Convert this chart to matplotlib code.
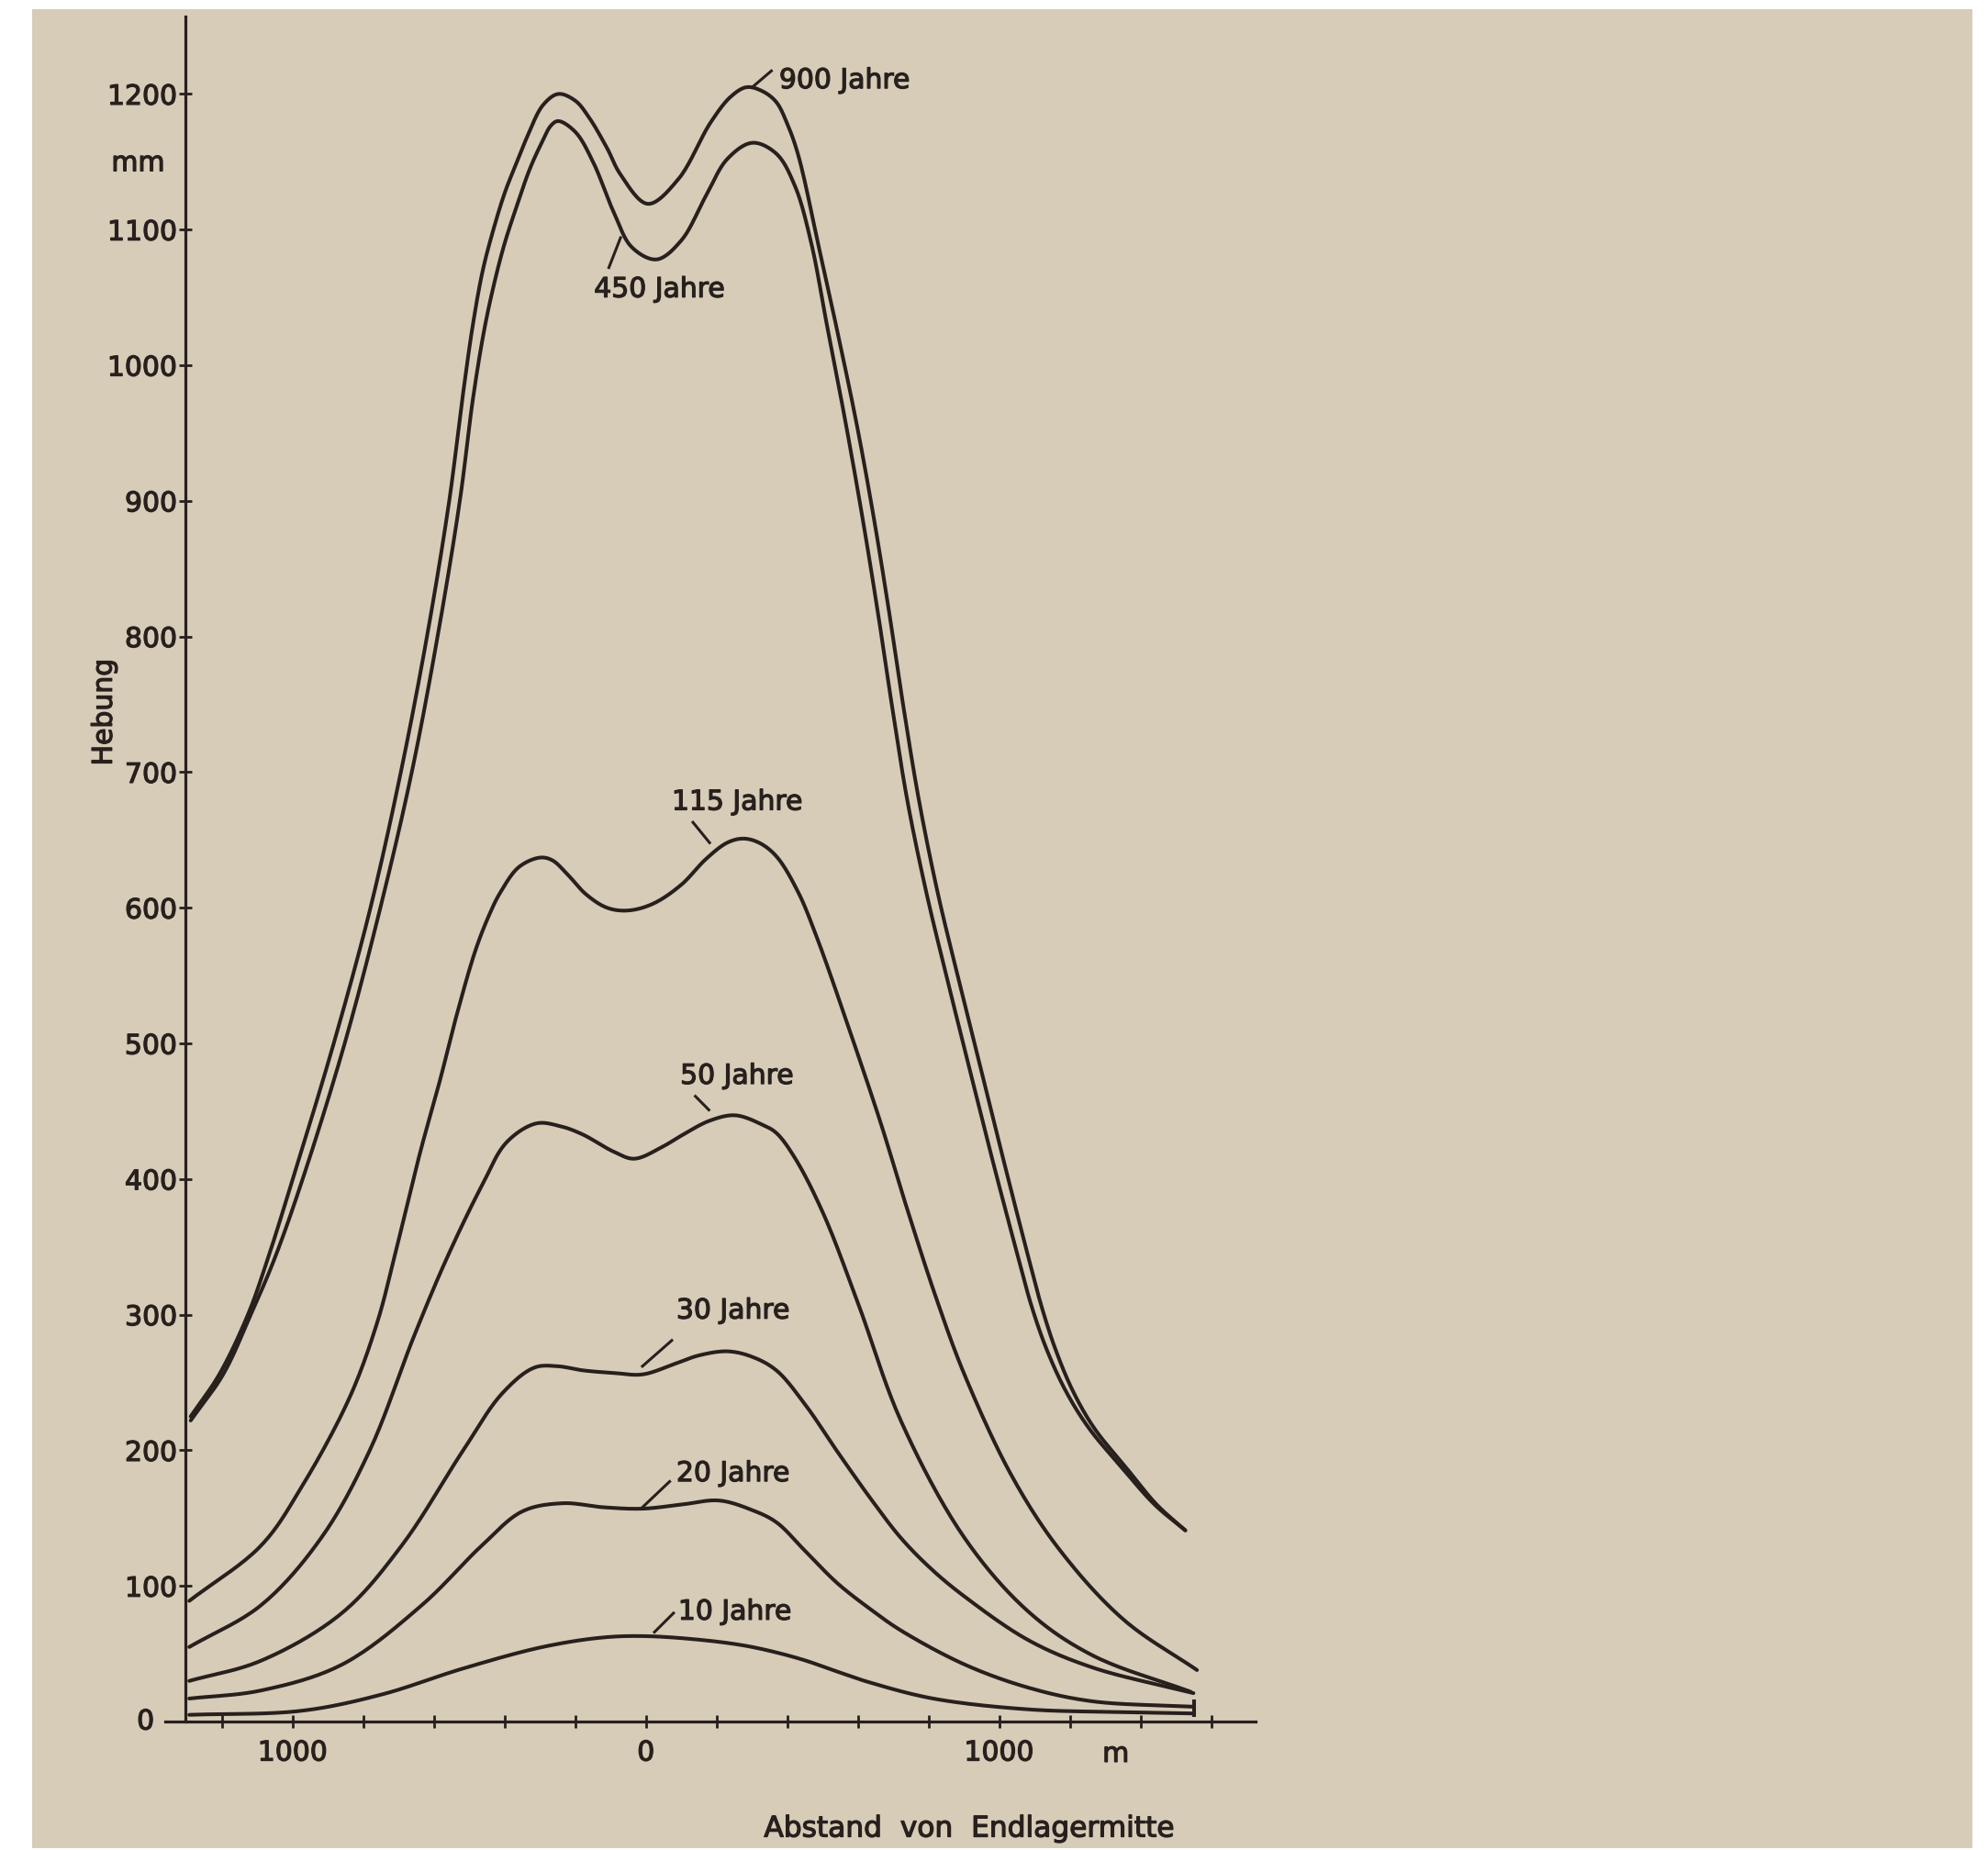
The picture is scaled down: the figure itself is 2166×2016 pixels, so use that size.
import numpy as np
import matplotlib
matplotlib.use("Agg")
import matplotlib.pyplot as plt
import matplotlib.patheffects as pe
from matplotlib.patches import Rectangle

# Hebung (mm) ueber Abstand von Endlagermitte (m)
x_900 = [-1289, -1208, -1127, -1071, -1000, -884, -780, -694, -620, -557, -520, -490, -462, -432,
         -400, -370, -337, -291, -248, -200, -162, -110, -73, 5, 91, 183, 240, 285, 330, 369, 400,
         431, 492, 541, 597, 646, 689, 729, 773, 826, 890, 955, 1019, 1084, 1120, 1160, 1210, 1270,
         1357, 1446, 1527]
y_900 = [225, 256, 300, 341, 400, 500, 600, 700, 800, 900, 975, 1030, 1070, 1100,
         1127, 1147, 1168, 1192, 1200, 1195, 1183, 1160, 1141, 1119, 1137, 1179, 1198, 1205, 1202, 1194, 1178,
         1155, 1084, 1026, 956, 886, 817, 748, 679, 611, 542, 474, 407, 341, 306, 274, 243, 216,
         188, 160, 141]

x_450 = [-1289, -1197, -1119, -1052, -972, -853, -752, -663, -590, -527, -490, -458, -430, -400,
         -365, -330, -299, -268, -248, -200, -150, -90, -40, 30, 100, 170, 230, 301, 369, 422, 468,
         512, 565, 614, 657, 697, 740, 794, 858, 923, 988, 1055, 1092, 1135, 1190, 1255, 1345, 1440, 1527]
y_450 = [222, 256, 300, 341, 400, 500, 600, 700, 800, 900, 975, 1026, 1060, 1090,
         1118, 1144, 1162, 1177, 1180, 1172, 1150, 1112, 1087, 1078, 1092, 1125, 1152, 1164, 1156, 1132, 1090,
         1030, 958, 886, 817, 748, 679, 611, 542, 474, 407, 341, 306, 274, 243, 216, 188, 160, 141]

x_115 = [-1293, -1089, -975, -839, -760, -709, -640, -582, -539, -481, -440, -413, -360, -300,
         -265, -220, -170, -110, -51, 20, 100, 170, 230, 275, 320, 369, 430, 484, 576, 665, 737,
         822, 903, 1038, 1173, 1353, 1560]
y_115 = [89, 130, 173, 239, 295, 346, 419, 474, 518, 570, 597, 611, 630, 637,
         635, 624, 610, 600, 598, 603, 617, 636, 648, 651, 648, 638, 612, 578, 510, 441, 380,
         312, 255, 180, 126, 75, 38]

x_50 = [-1293, -1089, -918, -782, -657, -565, -463, -395, -311, -243, -180, -90, -33, 48, 100,
        180, 253, 330, 369, 423, 503, 601, 723, 903, 1083, 1263, 1542]
y_50 = [55, 86, 136, 200, 284, 341, 396, 427, 441, 439, 433, 420, 415, 424, 432,
        443, 447, 440, 434, 415, 374, 308, 221, 135, 81, 49, 22]

x_30 = [-1293, -1089, -861, -691, -520, -407, -316, -250, -180, -90, -9, 84, 150, 231, 300,
        369, 450, 542, 640, 723, 810, 903, 1083, 1263, 1550]
y_30 = [30, 45, 80, 130, 199, 242, 261, 262, 259, 257, 256, 264, 270, 273, 269,
        259, 234, 199, 163, 135, 112, 92, 60, 40, 21]

x_20 = [-1293, -1089, -861, -634, -464, -350, -236, -120, -9, 100, 207, 300, 369, 450, 542,
        640, 723, 903, 1083, 1263, 1550]
y_20 = [17, 23, 42, 86, 130, 155, 161, 158, 157, 160, 163, 156, 147, 126, 102,
        82, 67, 42, 25, 15, 11]

x_10 = [-1293, -975, -748, -520, -293, -123, 0, 165, 280, 369, 452, 540, 632, 813, 1083, 1353, 1550]
y_10 = [5, 8, 20, 39, 55, 62, 63, 60, 56, 51, 45, 37, 29, 17, 9, 7, 6]

kurven = [(x_900, y_900), (x_450, y_450), (x_115, y_115), (x_50, y_50),
          (x_30, y_30), (x_20, y_20), (x_10, y_10)]

# Beschriftungen: Text, Textposition, Hinweisstrich (von, bis)
namen = ["900 Jahre", "450 Jahre", "115 Jahre", "50 Jahre", "30 Jahre", "20 Jahre", "10 Jahre"]
text_xy = [(377, 1210), (-147, 1056), (73, 678), (97, 476), (86, 303), (86, 183), (91, 81)]
strich = [((301, 1205), (355, 1217)), ((-105, 1072), (-72, 1094)), ((133, 663), (180, 648)),
          ((140, 461), (178, 451)), ((-10, 262), (73, 281)), ((-10, 158), (67, 177)),
          ((24, 66), (78, 80))]

# kurzer senkrechter Abschluss der unteren Kurven
ende_x = 1552
ende_y = (5, 15)

x_ticks = list(range(-1200, 1601, 200))
y_ticks = list(range(0, 1201, 100))

papier = "#d7ccb8"
tinte = "#27201d"

# Achsenmassstab in Pixel je Einheit (fuer die Glaettung)
px_x, px_y = 0.383, 1.478


def glatt(xs, ys, n=20):
    p = np.column_stack([np.asarray(xs, float) * px_x, np.asarray(ys, float) * px_y])
    p = np.vstack([2 * p[0] - p[1], p, 2 * p[-1] - p[-2]])
    teile = []
    for i in range(1, len(p) - 2):
        P0, P1, P2, P3 = p[i - 1], p[i], p[i + 1], p[i + 2]
        t0 = 0.0
        t1 = t0 + np.linalg.norm(P1 - P0) ** 0.5
        t2 = t1 + np.linalg.norm(P2 - P1) ** 0.5
        t3 = t2 + np.linalg.norm(P3 - P2) ** 0.5
        t = np.linspace(t1, t2, n, endpoint=False)[:, None]
        A1 = (t1 - t) / (t1 - t0) * P0 + (t - t0) / (t1 - t0) * P1
        A2 = (t2 - t) / (t2 - t1) * P1 + (t - t1) / (t2 - t1) * P2
        A3 = (t3 - t) / (t3 - t2) * P2 + (t - t2) / (t3 - t2) * P3
        B1 = (t2 - t) / (t2 - t0) * A1 + (t - t0) / (t2 - t0) * A2
        B2 = (t3 - t) / (t3 - t1) * A2 + (t - t1) / (t3 - t1) * A3
        teile.append((t2 - t) / (t2 - t1) * B1 + (t - t1) / (t2 - t1) * B2)
    teile.append(p[-2][None])
    s = np.vstack(teile)
    return s[:, 0] / px_x, s[:, 1] / px_y


plt.rcParams['font.family'] = ['DejaVu Sans']
fs = 21.5
dick = [pe.withStroke(linewidth=0.9, foreground=tinte)]

fig = plt.figure(figsize=(21.66, 20.16), dpi=100)
fig.patch.set_facecolor("white")
fig.patches.append(Rectangle((0.016, 0.001), 0.976, 0.994, transform=fig.transFigure,
                             facecolor=papier, edgecolor="none", zorder=-10))

ax = fig.add_axes([0.0833, 0.0694, 0.5483, 0.9216])
ax.set_facecolor("none")

for xs, ys in kurven:
    sx, sy = glatt(xs, ys)
    ax.plot(sx, sy, color=tinte, lw=2.9, solid_capstyle="round", solid_joinstyle="round")
ax.plot([ende_x, ende_x], ende_y, color=tinte, lw=2.9)

for name, (tx, ty), (a, b) in zip(namen, text_xy, strich):
    ax.text(tx, ty, name, fontsize=fs, color=tinte, ha="left", va="center", path_effects=dick)
    ax.plot([a[0], b[0]], [a[1], b[1]], color=tinte, lw=2.2)

ax.set_xlim(-1360, 1726)
ax.set_ylim(0, 1257)
ax.spines['top'].set_visible(False)
ax.spines['right'].set_visible(False)
ax.spines['left'].set_position(('data', -1305))
for s in ('left', 'bottom'):
    ax.spines[s].set_color(tinte)
    ax.spines[s].set_linewidth(2.3)

ax.set_xticks(x_ticks)
ax.set_xticklabels(["1000" if v in (-1000, 1000) else "0" if v == 0 else "" for v in x_ticks])
ax.set_yticks(y_ticks)
ax.set_yticklabels(["" if v == 0 else str(v) for v in y_ticks])
ax.tick_params(axis='both', direction='inout', length=10, width=2.0, color=tinte,
               labelsize=fs, labelcolor=tinte)
ax.tick_params(axis='x', pad=9)
ax.tick_params(axis='y', pad=1)
for lab in ax.get_xticklabels() + ax.get_yticklabels():
    lab.set_path_effects(dick)

ax.annotate("0", xy=(-1305, 0), xytext=(-24, 0), textcoords="offset points",
            ha="right", va="center", fontsize=fs, color=tinte, path_effects=dick)
ax.annotate("m", xy=(1330, 0), xytext=(0, -15), textcoords="offset points",
            ha="center", va="top", fontsize=fs, color=tinte, path_effects=dick)
ax.annotate("mm", xy=(-1305, 1149), xytext=(-16, 0), textcoords="offset points",
            ha="right", va="center", fontsize=fs, color=tinte, path_effects=dick)

ax.set_ylabel("Hebung", fontsize=fs, color=tinte, path_effects=dick)
ax.yaxis.set_label_coords(0.059, 0.615, transform=fig.transFigure)
ax.set_xlabel("Abstand  von  Endlagermitte", fontsize=fs + 1, color=tinte, path_effects=dick)
ax.xaxis.set_label_coords(0.4875, 0.0114, transform=fig.transFigure)
ax.xaxis.label.set_va("center")

fig.savefig("out.png", dpi=100, facecolor=fig.get_facecolor())
